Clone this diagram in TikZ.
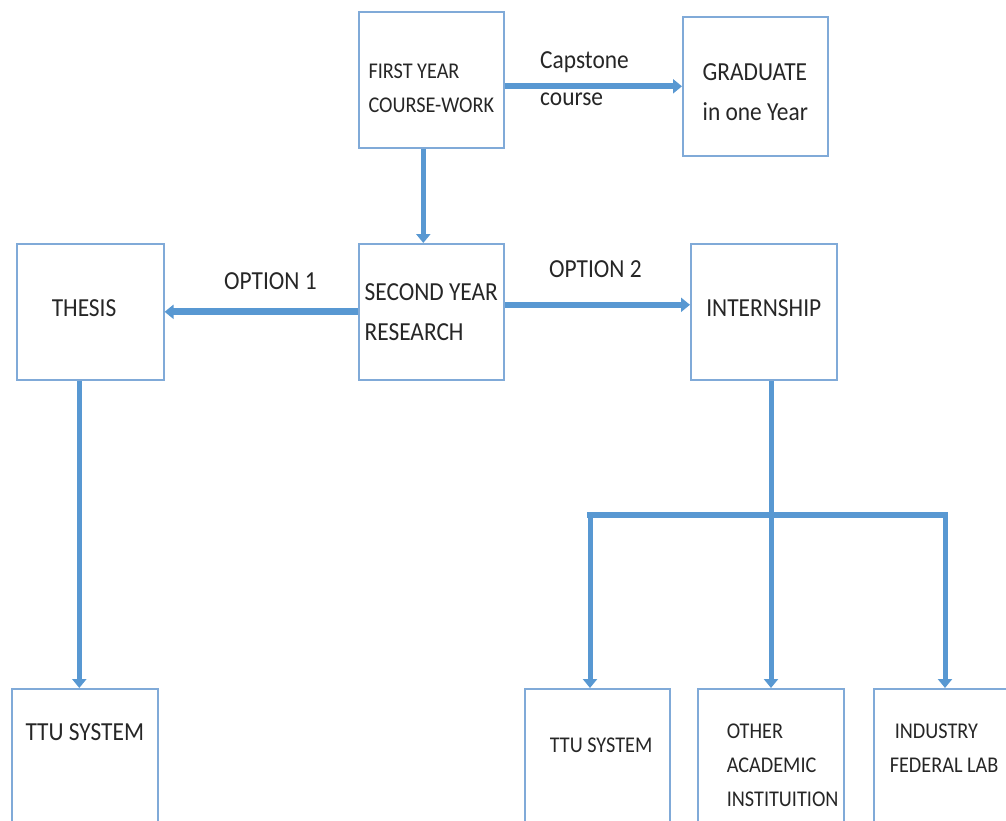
\documentclass[tikz,border=0pt]{standalone}
\usepackage{fontspec}
\setmainfont{Carlito}[FakeStretch=0.9]
\usetikzlibrary{arrows.meta}
\definecolor{flowblue}{RGB}{88,152,210}
\definecolor{boxblue}{RGB}{128,170,216}
\begin{document}
\begin{tikzpicture}[x=1pt, y=-1pt, line join=miter,
    bigtext/.style={font=\fontsize{26}{40}\selectfont, text=black!85},
    smalltext/.style={font=\fontsize{22.5}{34}\selectfont, text=black!85},
    stage/.style={draw=boxblue, line width=1.6pt, minimum width=145pt, minimum height=136pt, inner sep=0pt, align=flush left, anchor=north west},
    lowstage/.style={stage, smalltext, minimum height=150pt},
    flow/.style={draw=flowblue, line width=6pt, -{Triangle[length=9pt,width=14pt]}},
    busline/.style={draw=flowblue, line width=6pt}]
    \useasboundingbox (0,0) rectangle (1006,820);
    % top row
    \node[stage, smalltext, text height=66pt] (first) at (358,11) {FIRST YEAR\\COURSE-WORK};
    \node[stage, bigtext, minimum height=139pt, text height=69pt] (grad) at (682,16) {GRADUATE\\in one Year};
    % middle row
    \node[stage, bigtext, minimum width=147pt, text width=77pt, text depth=8pt] (thesis) at (16,243) {THESIS};
    \node[stage, bigtext] (second) at (358,243) {SECOND YEAR\\RESEARCH};
    \node[stage, bigtext, minimum width=146pt, text depth=8pt] (intern) at (690,243) {INTERNSHIP};
    % bottom row
    \node[lowstage, bigtext, minimum width=146pt, text height=52pt, text depth=98pt] (ttuA) at (11,688) {TTU SYSTEM};
    \node[lowstage, text width=95pt, text height=64pt, text depth=86pt] (ttuB) at (524,688) {\mbox{TTU SYSTEM}};
    \node[lowstage, minimum width=146pt, text width=88pt, text height=50pt, text depth=100pt] (other) at (697,688) {OTHER\\ACADEMIC\\INSTITUITION};
    \node[lowstage, minimum width=146pt, text width=114pt, text height=50pt, text depth=100pt] (industry) at (873,688) {\hspace*{5pt}INDUSTRY\\\mbox{FEDERAL LAB}};
    % labels
    \node[bigtext, font=\fontsize{26}{37}\selectfont, align=left, anchor=base west, inner sep=0pt] (capstone) at (540,105) {Capstone\\course};
    \node[bigtext, anchor=base west, inner sep=0pt] (opt1) at (224,289) {OPTION 1};
    \node[bigtext, anchor=base west, inner sep=0pt] (opt2) at (549,277) {OPTION 2};
    % connectors
    \draw[flow] (first.east |- grad.west) -- (grad.west);
    \draw[flow, line width=5pt] ([xshift=-8pt]first.south) -- ([xshift=-8pt]second.north);
    \draw[flow, line width=7pt] (second.west) -- (thesis.east);
    \draw[flow] ([yshift=7pt]second.east) -- ([yshift=7pt]intern.west);
    \draw[flow, line width=5pt] ([xshift=-11pt]thesis.south) -- ([xshift=-11pt]thesis.south |- ttuA.north);
    \coordinate (busL) at (590,515);
    \coordinate (busM) at (771,515);
    \coordinate (busR) at (945,515);
    \draw[busline, line width=5pt] (intern.south -| busM) -- (busM);
    \draw[busline, line cap=rect] (busL) -- (busR);
    \draw[flow, line width=5pt] (busL) -- (busL |- ttuB.north);
    \draw[flow, line width=5pt] (busM) -- (busM |- other.north);
    \draw[flow, line width=5pt] (busR) -- (busR |- industry.north);
\end{tikzpicture}
\end{document}
